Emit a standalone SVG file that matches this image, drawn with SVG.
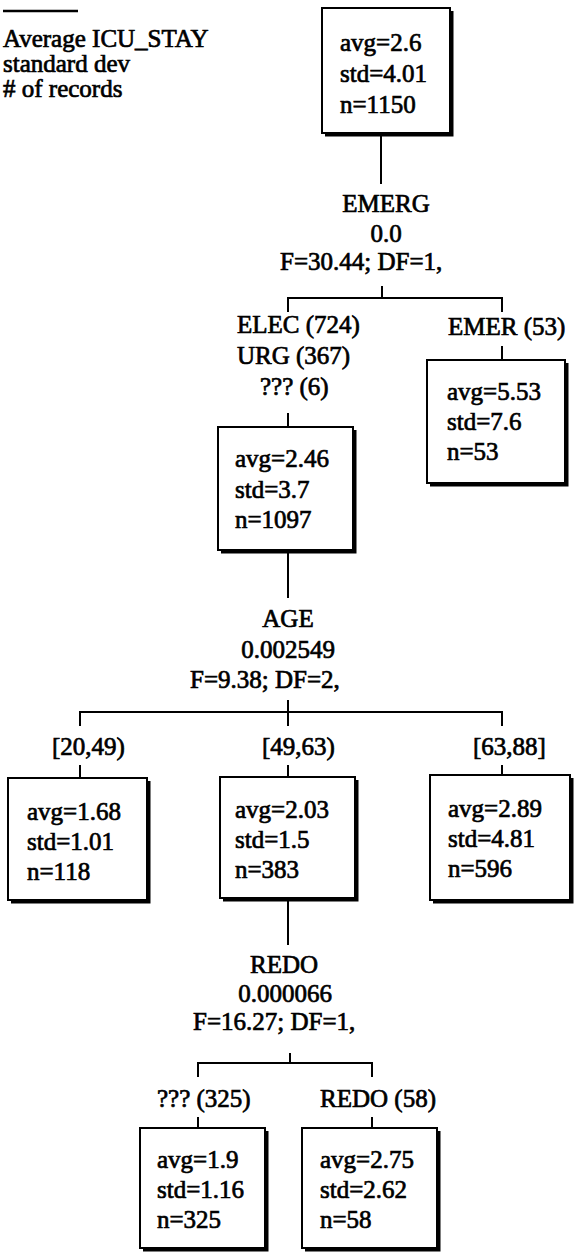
<svg xmlns="http://www.w3.org/2000/svg" width="574" height="1252" viewBox="0 0 574 1252">
  <style>
    text { font-family: "Liberation Serif", "Times New Roman", serif; font-size: 25px; fill: #000; stroke: #000; stroke-width: 0.7px; }
    .mid { text-anchor: middle; }
    .box { fill: #fff; stroke: #000; stroke-width: 2; }
    .shadow { fill: none; stroke: #000; stroke-width: 3; }
    .wire { fill: none; stroke: #000; stroke-width: 2; }
  </style>
  <rect width="574" height="1252" fill="#fff"/>

  <!-- legend -->
  <g id="legend">
    <line x1="3" y1="11" x2="78" y2="11" fill="none" stroke="#000" stroke-width="2.5"/>
    <text x="3" y="47">Average ICU_STAY</text>
    <text x="3" y="72">standard dev</text>
    <text x="3" y="97"># of records</text>
  </g>

  <!-- connectors -->
  <g id="connectors">
    <!-- root to EMERG split -->
    <line x1="381" y1="134" x2="381" y2="184" class="wire"/>
    <line x1="382" y1="286" x2="382" y2="298" class="wire"/>
    <polyline points="288,312 288,298 502,298 502,312" class="wire"/>
    <line x1="288" y1="413" x2="288" y2="427" class="wire"/>
    <line x1="502" y1="346" x2="502" y2="360" class="wire"/>
    <!-- to AGE split -->
    <line x1="288" y1="551" x2="288" y2="598" class="wire"/>
    <line x1="288" y1="700" x2="288" y2="726" class="wire"/>
    <polyline points="80,726 80,712 502,712 502,726" class="wire"/>
    <line x1="80" y1="765" x2="80" y2="778" class="wire"/>
    <line x1="288" y1="765" x2="288" y2="777" class="wire"/>
    <line x1="502" y1="765" x2="502" y2="775" class="wire"/>
    <!-- to REDO split -->
    <line x1="288" y1="899" x2="288" y2="945" class="wire"/>
    <line x1="290" y1="1053" x2="290" y2="1063" class="wire"/>
    <polyline points="198,1077 198,1063 372,1063 372,1077" class="wire"/>
    <line x1="198" y1="1117" x2="198" y2="1128" class="wire"/>
    <line x1="372" y1="1117" x2="372" y2="1128" class="wire"/>
  </g>

  <!-- root node -->
  <g id="node-root">
    <rect x="322" y="8" width="128" height="125" class="box"/>
    <polyline points="452,11 452,135 325,135" class="shadow"/>
    <text x="340" y="51">avg=2.6</text>
    <text x="340" y="82">std=4.01</text>
    <text x="340" y="113">n=1150</text>
  </g>

  <!-- EMERG split -->
  <g id="split-emerg">
    <text x="386" y="212" class="mid">EMERG</text>
    <text x="386" y="242" class="mid">0.0</text>
    <text x="280" y="270">F=30.44; DF=1,</text>
  </g>

  <g id="branch-elec">
    <text x="237" y="333">ELEC (724)</text>
    <text x="237" y="364">URG (367)</text>
    <text x="260" y="395">??? (6)</text>
  </g>

  <g id="branch-emer">
    <text x="448" y="335">EMER (53)</text>
  </g>

  <g id="node-elec">
    <rect x="218" y="427" width="135" height="123" class="box"/>
    <polyline points="355,430 355,552 221,552" class="shadow"/>
    <text x="235" y="467">avg=2.46</text>
    <text x="235" y="498">std=3.7</text>
    <text x="235" y="528">n=1097</text>
  </g>

  <g id="node-emer">
    <rect x="427" y="360" width="138" height="123" class="box"/>
    <polyline points="567,363 567,485 430,485" class="shadow"/>
    <text x="447" y="400">avg=5.53</text>
    <text x="447" y="430">std=7.6</text>
    <text x="447" y="460">n=53</text>
  </g>

  <!-- AGE split -->
  <g id="split-age">
    <text x="288" y="627" class="mid">AGE</text>
    <text x="288" y="658" class="mid">0.002549</text>
    <text x="190" y="688">F=9.38; DF=2,</text>
  </g>

  <g id="branch-age">
    <text x="52" y="755">[20,49)</text>
    <text x="262" y="755">[49,63)</text>
    <text x="473" y="755">[63,88]</text>
  </g>

  <g id="node-age-20-49">
    <rect x="8" y="778" width="139" height="122" class="box"/>
    <polyline points="149,781 149,902 11,902" class="shadow"/>
    <text x="27" y="820">avg=1.68</text>
    <text x="27" y="850">std=1.01</text>
    <text x="27" y="880">n=118</text>
  </g>

  <g id="node-age-49-63">
    <rect x="220" y="777" width="135" height="121" class="box"/>
    <polyline points="357,780 357,900 223,900" class="shadow"/>
    <text x="235" y="818">avg=2.03</text>
    <text x="235" y="848">std=1.5</text>
    <text x="235" y="878">n=383</text>
  </g>

  <g id="node-age-63-88">
    <rect x="430" y="775" width="140" height="125" class="box"/>
    <polyline points="572,778 572,902 433,902" class="shadow"/>
    <text x="448" y="817">avg=2.89</text>
    <text x="448" y="847">std=4.81</text>
    <text x="448" y="877">n=596</text>
  </g>

  <!-- REDO split -->
  <g id="split-redo">
    <text x="284" y="973" class="mid">REDO</text>
    <text x="285" y="1002" class="mid">0.000066</text>
    <text x="193" y="1030">F=16.27; DF=1,</text>
  </g>

  <g id="branch-redo">
    <text x="157" y="1107">??? (325)</text>
    <text x="320" y="1107">REDO (58)</text>
  </g>

  <g id="node-redo-none">
    <rect x="140" y="1128" width="125" height="120" class="box"/>
    <polyline points="267,1131 267,1250 143,1250" class="shadow"/>
    <text x="157" y="1168">avg=1.9</text>
    <text x="157" y="1198">std=1.16</text>
    <text x="157" y="1228">n=325</text>
  </g>

  <g id="node-redo">
    <rect x="302" y="1128" width="135" height="120" class="box"/>
    <polyline points="439,1131 439,1250 305,1250" class="shadow"/>
    <text x="320" y="1168">avg=2.75</text>
    <text x="320" y="1198">std=2.62</text>
    <text x="320" y="1228">n=58</text>
  </g>
</svg>
